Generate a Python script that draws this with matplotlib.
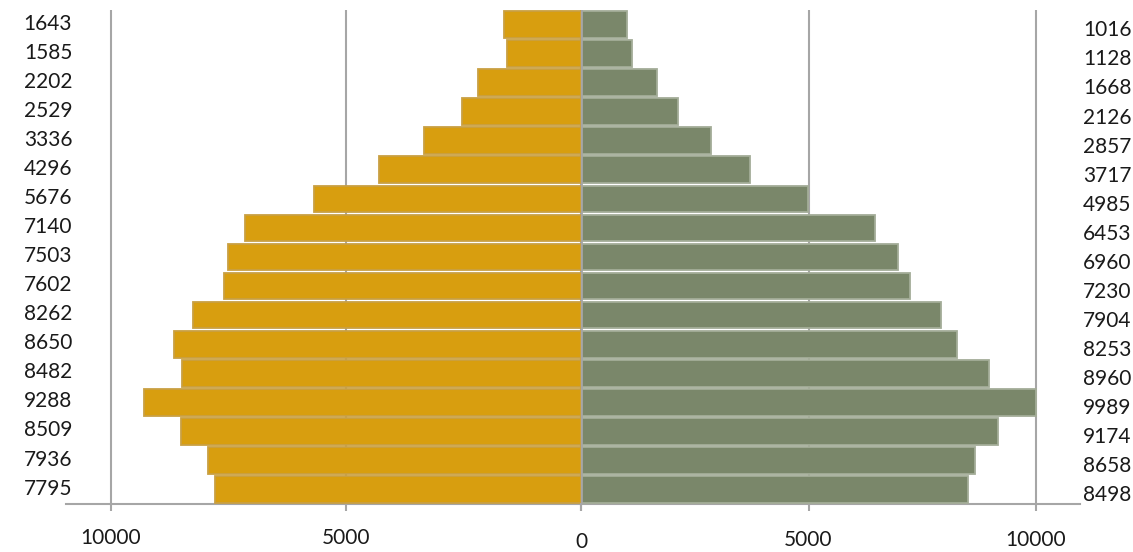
import matplotlib.pyplot as plt
from matplotlib.transforms import blended_transform_factory, offset_copy

plt.rcParams['font.family'] = ['Lato', 'DejaVu Sans']

# age groups from youngest (bottom) to oldest (top)
izquierda = [7795, 7936, 8509, 9288, 8482, 8650, 8262, 7602, 7503, 7140,
             5676, 4296, 3336, 2529, 2202, 1585, 1643]
derecha = [8498, 8658, 9174, 9989, 8960, 8253, 7904, 7230, 6960, 6453,
           4985, 3717, 2857, 2126, 1668, 1128, 1016]
ticks = [0, 5000, 10000]

oro = '#D89E0F'
verde = '#7A876A'
gris = '#A6A6A6'
tinta = '#1a1a1a'

W, H = 1133, 552
fig = plt.figure(figsize=(W / 100, H / 100), dpi=100)
top, bottom = 10, 504
ax_l = fig.add_axes([66 / W, 1 - bottom / H, (581 - 66) / W, (bottom - top) / H])
ax_r = fig.add_axes([581 / W, 1 - bottom / H, (1080 - 581) / W, (bottom - top) / H])

pos = list(range(len(izquierda)))
ax_l.barh(pos, izquierda, height=0.92, color=oro, edgecolor='#C9A043', linewidth=1.3, zorder=3)
ax_r.barh(pos, derecha, height=0.92, color=verde, edgecolor='#A4AD98', linewidth=1.3, zorder=3)

ax_l.set_xlim(10957, 0)
ax_r.set_xlim(0, 10967)

for ax in (ax_l, ax_r):
    ax.set_ylim(-0.5, len(pos) - 0.5)
    ax.set_yticks([])
    ax.set_xticks(ticks)
    ax.set_xticklabels([str(t) for t in ticks])
    ax.grid(axis='x', color=gris, linewidth=1.5, zorder=0)
    for s in ('top', 'left', 'right'):
        ax.spines[s].set_visible(False)
    ax.spines['bottom'].set_color(gris)
    ax.spines['bottom'].set_linewidth(1.5)
    ax.tick_params(axis='x', length=5, width=1.5, color=gris, labelsize=15, labelcolor=tinta)

# the zero label sits a little lower, drawn on its own
ax_l.xaxis.get_major_ticks()[0].label1.set_visible(False)
ax_r.xaxis.get_major_ticks()[0].label1.set_visible(False)
ax_l.tick_params(axis='x', pad=12)
ax_r.tick_params(axis='x', pad=14)
ax_r.text(0, 0, '0', transform=offset_copy(ax_r.transAxes, fig=fig, x=0, y=-38, units='dots'),
          ha='center', va='center', fontsize=15, color=tinta)
ax_r.axvline(0, color=gris, linewidth=2, zorder=4)

tl = blended_transform_factory(ax_l.transAxes, ax_l.transData)
tr = blended_transform_factory(ax_r.transAxes, ax_r.transData)
for i, v in enumerate(izquierda):
    ax_l.text(0.012, i + 0.03, str(v), transform=tl, ha='right', va='center', fontsize=15, color=tinta)
for i, v in enumerate(derecha):
    ax_r.text(1.006, i - 0.2, str(v), transform=tr, ha='left', va='center', fontsize=15, color=tinta)

fig.savefig('out.png', dpi=100)
